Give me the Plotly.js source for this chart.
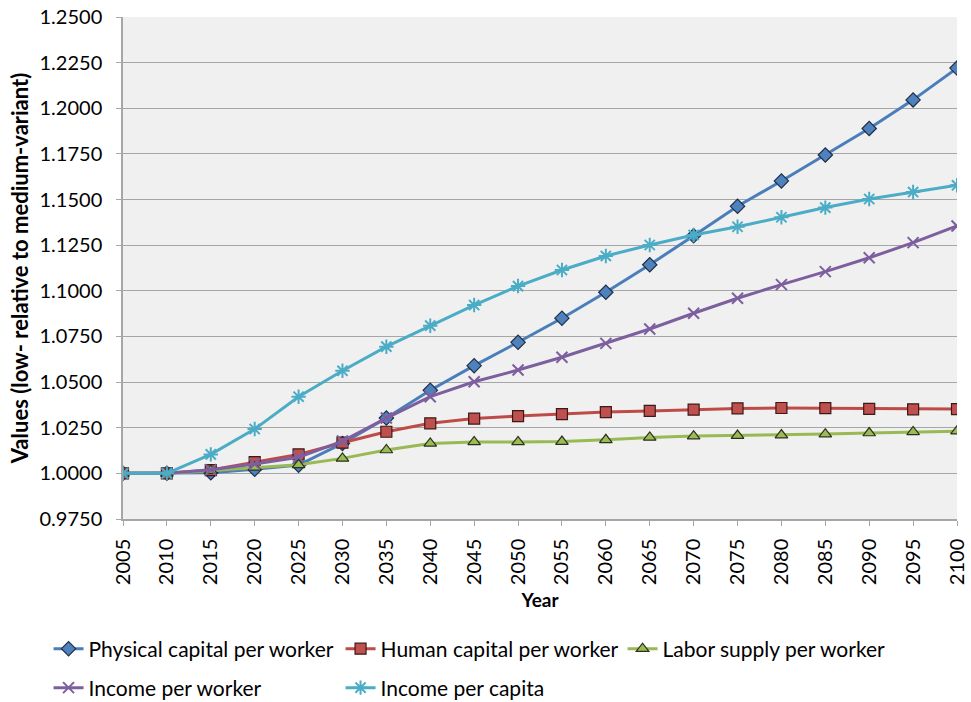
<!DOCTYPE html>
<html>
<head>
<meta charset="utf-8">
<script src="https://cdn.plot.ly/plotly-3.0.1.min.js"></script>
<style>html,body{margin:0;padding:0;background:#fff;}#chart{width:971px;height:702px;}</style>
</head>
<body>
<div id="chart"></div>
<script>
const years = [2005,2010,2015,2020,2025,2030,2035,2040,2045,2050,2055,2060,2065,2070,2075,2080,2085,2090,2095,2100];
const physicalCapital = [1.0000,1.0000,1.0003,1.0022,1.0045,1.0164,1.0303,1.0455,1.0590,1.0718,1.0850,1.0992,1.1143,1.1302,1.1463,1.1602,1.1744,1.1889,1.2046,1.2220];
const humanCapital = [1.0000,1.0000,1.0018,1.0062,1.0104,1.0168,1.0228,1.0274,1.0300,1.0314,1.0325,1.0336,1.0342,1.0349,1.0356,1.0358,1.0357,1.0353,1.0351,1.0352];
const laborSupply = [1.0000,1.0000,1.0015,1.0033,1.0047,1.0082,1.0128,1.0164,1.0172,1.0172,1.0174,1.0184,1.0197,1.0204,1.0207,1.0210,1.0215,1.0221,1.0227,1.0231];
const incomeWorker = [1.0000,1.0000,1.0020,1.0051,1.0088,1.0177,1.0303,1.0420,1.0502,1.0566,1.0636,1.0712,1.0791,1.0877,1.0959,1.1034,1.1105,1.1181,1.1264,1.1355];
const incomeCapita = [1.0000,1.0000,1.0104,1.0243,1.0420,1.0562,1.0694,1.0809,1.0922,1.1026,1.1114,1.1191,1.1251,1.1306,1.1351,1.1403,1.1456,1.1503,1.1541,1.1578];
const seriesNames = ["Physical capital per worker","Human capital per worker","Labor supply per worker","Income per worker","Income per capita"];
const yTicks = [0.975,1.0,1.025,1.05,1.075,1.1,1.125,1.15,1.175,1.2,1.225,1.25];

const FONT = "Lato, 'Open Sans', sans-serif";
function tr(y, name, lineColor, sym, fill, size, lineW, mline, leg){
  return {x: years, y: y, name: name, type: 'scatter', mode: 'lines+markers', legend: leg,
    line: {color: lineColor, width: 3},
    marker: {symbol: sym, color: fill, size: size, line: {color: mline, width: lineW}}};
}
const data = [
  tr(physicalCapital, seriesNames[0], '#4A7EBB', 'diamond', '#4F81BD', 11, 1.2, '#1f2f45', 'legend'),
  tr(humanCapital, seriesNames[1], '#BE4B48', 'square', '#C0504D', 11, 1.2, '#3a1a19', 'legend'),
  tr(laborSupply, seriesNames[2], '#98B954', 'triangle-up', '#9BBB59', 11, 1.2, '#2a3318', 'legend3'),
  tr(incomeWorker, seriesNames[3], '#7D5FA0', 'x-thin-open', '#7D5FA0', 11, 2, '#7D5FA0', 'legend2'),
  tr(incomeCapita, seriesNames[4], '#4BACC6', 'asterisk-open', '#4BACC6', 12, 2, '#4BACC6', 'legend2')
];
const legendBase = {
  orientation: 'h', xref: 'container', yref: 'container',
  x: 0.05, xanchor: 'left', yanchor: 'middle',
  entrywidth: 247, entrywidthmode: 'pixels',
  font: {family: FONT, size: 21}, bgcolor: 'rgba(0,0,0,0)'
};
const layout = {
  width: 971, height: 702,
  margin: {l: 123, r: 14, t: 17, b: 183},
  paper_bgcolor: '#ffffff',
  plot_bgcolor: '#F0F0F0',
  font: {family: FONT, size: 20, color: '#000'},
  showlegend: true,
  xaxis: {
    range: [2005, 2100], tickvals: years, ticktext: years.map(String),
    tickangle: -90, ticks: 'outside', ticklen: 5, tickcolor: '#A6A6A6',
    ticklabelstandoff: 5,
    showline: true, linecolor: '#A6A6A6', linewidth: 1.5, showgrid: false, zeroline: false,
    tickfont: {family: FONT, size: 20},
    title: {text: '<b>Year</b>', font: {family: FONT, size: 19}, standoff: 10}
  },
  yaxis: {
    range: [0.975, 1.25], tickvals: yTicks, tickformat: '.4f',
    ticks: 'outside', ticklen: 5, tickcolor: '#A6A6A6',
    ticklabelstandoff: 10,
    showline: true, linecolor: '#A6A6A6', linewidth: 1.5,
    showgrid: true, gridcolor: '#A6A6A6', gridwidth: 1.2, zeroline: false,
    tickfont: {family: FONT, size: 20},
    title: {text: '<b>Values (low- relative to medium-variant)</b>', font: {family: FONT, size: 22}, standoff: 5}
  },
  legend: Object.assign({}, legendBase, {y: (702 - 649) / 702}),
  legend3: Object.assign({}, legendBase, {x: 0.05 + 574 / 971, y: (702 - 649) / 702}),
  legend2: Object.assign({}, legendBase, {y: (702 - 688) / 702})
};
Plotly.newPlot('chart', data, layout, {displayModeBar: false, responsive: false});
</script>
</body>
</html>
